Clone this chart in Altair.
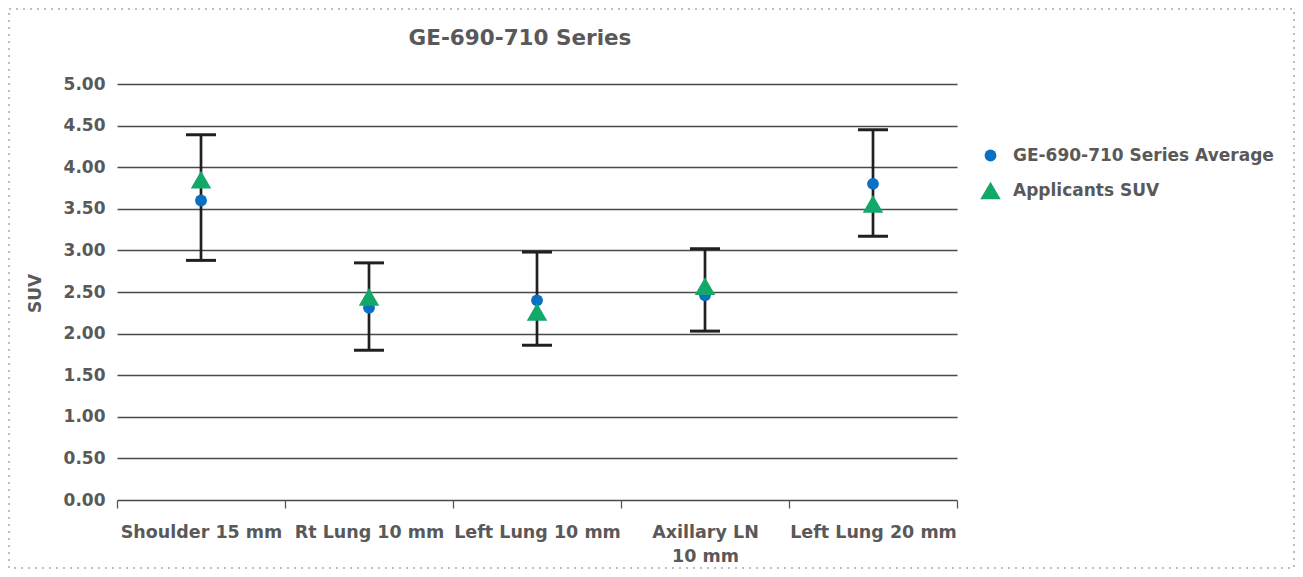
import altair as alt
import pandas as pd

categories = ["Shoulder 15 mm", "Rt Lung 10 mm", "Left Lung 10 mm", "Axillary LN 10 mm", "Left Lung 20 mm"]
series_names = ["GE-690-710 Series Average", "Applicants SUV"]
average_suv = [3.60, 2.31, 2.40, 2.46, 3.80]
applicants_suv = [3.85, 2.44, 2.26, 2.57, 3.56]
err_low = [2.88, 1.80, 1.86, 2.03, 3.17]
err_high = [4.39, 2.85, 2.98, 3.02, 4.45]
y_ticks = [0.0, 0.5, 1.0, 1.5, 2.0, 2.5, 3.0, 3.5, 4.0, 4.5, 5.0]

BLUE = "#0a70c2"
GREEN = "#12a86a"
GRAY = "#595959"
FONT = "DejaVu Sans"

points = pd.DataFrame({
    "category": categories * 2,
    "series": [series_names[0]] * len(categories) + [series_names[1]] * len(categories),
    "value": average_suv + applicants_suv,
})
errs = pd.DataFrame({"category": categories, "low": err_low, "high": err_high})

x_enc = alt.X(
    "category:N",
    sort=categories,
    title=None,
    scale=alt.Scale(type="band", domain=categories, paddingInner=0, paddingOuter=0),
    axis=alt.Axis(
        labelAngle=0,
        labelFont=FONT,
        labelFontSize=17.5,
        labelFontWeight="bold",
        labelColor=GRAY,
        labelLimit=0,
        labelPadding=15,
        labelLineHeight=24,
        labelExpr="datum.label == 'Axillary LN 10 mm' ? ['Axillary LN', '10 mm'] : datum.label",
        domain=False,
        grid=False,
        ticks=True,
        tickBand="extent",
        tickColor=GRAY,
        tickSize=8,
        tickWidth=1.3,
    ),
)

y_scale = alt.Scale(domain=[0, 5], nice=False, zero=True)
y_axis = alt.Axis(
    values=y_ticks,
    format=".2f",
    domain=False,
    ticks=False,
    grid=True,
    gridColor="#4a4a4a",
    gridWidth=1.4,
    labelFont=FONT,
    labelFontSize=17,
    labelFontWeight="bold",
    labelColor=GRAY,
    labelPadding=12,
    title="SUV",
    titleFont=FONT,
    titleFontSize=17,
    titleFontWeight="bold",
    titleColor=GRAY,
    titleX=-73,
    titleY=209,
)

base_err = alt.Chart(errs)
rules = base_err.mark_rule(color="#231f20", strokeWidth=2.7, opacity=1).encode(
    x=x_enc,
    y=alt.Y("low:Q", scale=y_scale, axis=y_axis),
    y2="high:Q",
)
cap_low = base_err.mark_tick(color="#231f20", size=30, thickness=3, orient="horizontal", opacity=1).encode(
    x=alt.X("category:N", sort=categories), y=alt.Y("low:Q", scale=y_scale)
)
cap_high = base_err.mark_tick(color="#231f20", size=30, thickness=3, orient="horizontal", opacity=1).encode(
    x=alt.X("category:N", sort=categories), y=alt.Y("high:Q", scale=y_scale)
)

legend = alt.Legend(
    title=None,
    orient="none",
    legendX=863,
    legendY=63,
    labelFont=FONT,
    labelFontSize=17,
    labelFontWeight="bold",
    labelColor=GRAY,
    labelLimit=0,
    rowPadding=16,
    labelOffset=12,
    symbolStrokeWidth=0,
    padding=0,
)

pts = alt.Chart(points).mark_point(filled=True, opacity=1).encode(
    x=alt.X("category:N", sort=categories),
    y=alt.Y("value:Q", scale=y_scale),
    color=alt.Color("series:N", scale=alt.Scale(domain=series_names, range=[BLUE, GREEN]), legend=legend),
    shape=alt.Shape("series:N", scale=alt.Scale(domain=series_names, range=["circle", "triangle-up"]), legend=legend),
    size=alt.Size("series:N", scale=alt.Scale(domain=series_names, range=[140, 420]), legend=legend),
    order=alt.Order("series_order:Q"),
).transform_calculate(series_order=f"datum.series == '{series_names[0]}' ? 0 : 1")

border = alt.Chart(pd.DataFrame({"a": [0]})).mark_rect(
    fill="transparent", stroke="#bdbdbd", strokeWidth=2, strokeDash=[2, 5]
).encode(
    x=alt.value(-108), x2=alt.value(1177), y=alt.value(-75), y2=alt.value(484)
)

chart = alt.layer(border, rules, cap_low, cap_high, pts).properties(
    width=840,
    height=416,
    background="white",
    title=alt.TitleParams(
        "GE-690-710 Series", font=FONT, fontSize=21.5, fontWeight="bold", color=GRAY,
        anchor="middle", dx=-17, offset=-58, frame="group", baseline="alphabetic",
    ),
    padding={"left": 109, "top": 76, "right": 338, "bottom": 69},
    autosize=alt.AutoSizeParams(type="none"),
).configure_view(stroke="transparent", strokeWidth=0)

chart.save("out.html", embed_options={"renderer": "svg", "actions": False})
